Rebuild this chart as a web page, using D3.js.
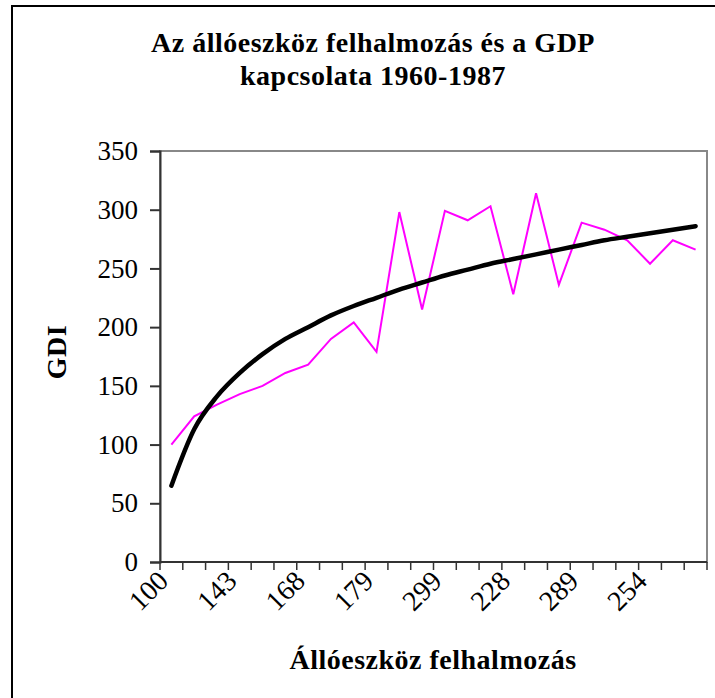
<!DOCTYPE html>
<html lang="hu">
<head>
<meta charset="UTF-8">
<title>Az állóeszköz felhalmozás és a GDP</title>
<script src="https://d3js.org/d3.v7.min.js"></script>
<style>
  body { margin: 0; background: #fff; }
  svg text { font-family: "Liberation Serif", "Times New Roman", serif; }
</style>
</head>
<body>
<svg width="715" height="698"></svg>
<script>
// x categories (felhalmozás) - also plotted as the magenta series
const categories = ["100", "124", "134", "143", "150", "161", "168", "190", "204", "179", "298", "215",
                    "299", "291", "303", "228", "314", "236", "289", "283", "274", "254", "274", "266"]
const felhalmozas = [100, 124, 134, 143, 150, 161, 168, 190, 204, 179, 298, 215,
                     299, 291, 303, 228, 314, 236, 289, 283, 274, 254, 274, 266]
// black trend line (GDI)
const gdi = [65, 113, 141, 161, 177, 190, 200, 210, 218, 225, 232, 238,
             244, 249, 254, 258, 262, 266, 270, 274, 277, 280, 283, 286]
const yTicks = [0, 50, 100, 150, 200, 250, 300, 350]

let svg = d3.select("svg")
let margin = { left: 160, right: 8, top: 151, bottom: 136 }
let width = 715 - margin.left - margin.right
let height = 698 - margin.top - margin.bottom

// outer frame
svg.append("rect")
    .attr("x", 12).attr("y", 6)
    .attr("width", 720).attr("height", 700)
    .attr("fill", "none").attr("stroke", "#000").attr("stroke-width", 2)

let x = d3.scaleBand().domain(d3.range(categories.length)).range([0, width])
let y = d3.scaleLinear().domain([0, 350]).range([height, 0])

let g = svg.append("g").attr("transform", `translate(${margin.left},${margin.top})`)

// plot area border (gray)
g.append("rect")
    .attr("width", width).attr("height", height)
    .attr("fill", "none").attr("stroke", "#888").attr("stroke-width", 2)

// y axis
let yAxis = g.append("g")
    .call(d3.axisLeft(y).tickValues(yTicks).tickSize(10).tickPadding(12))
yAxis.selectAll("text").style("font-size", "27px").attr("fill", "#000")
yAxis.selectAll("line, path").attr("stroke", "#333").attr("stroke-width", 2)

// x axis: ticks at band edges, labels every 3rd category
let xAxis = g.append("g").attr("transform", `translate(0,${height})`)
xAxis.append("line").attr("x1", 0).attr("x2", width).attr("stroke", "#333").attr("stroke-width", 2)
xAxis.selectAll(".tick")
    .data(d3.range(categories.length + 1))
    .enter().append("line")
    .attr("x1", d => d * x.step()).attr("x2", d => d * x.step())
    .attr("y1", 0).attr("y2", 8)
    .attr("stroke", "#333").attr("stroke-width", 1.5)
xAxis.selectAll(".lbl")
    .data(d3.range(0, categories.length, 3))
    .enter().append("text")
    .attr("transform", d => `translate(${x(d) + x.bandwidth() / 2 - 6},${16}) rotate(-45)`)
    .attr("text-anchor", "end")
    .attr("dominant-baseline", "middle")
    .style("font-size", "28px")
    .text(d => categories[d])

// lines
let line = d3.line()
    .x((d, i) => x(i) + x.bandwidth() / 2)
    .y(d => y(d))

g.append("path")
    .datum(felhalmozas)
    .attr("d", line)
    .attr("fill", "none").attr("stroke", "#ff00ff").attr("stroke-width", 2)

g.append("path")
    .datum(gdi)
    .attr("d", line.curve(d3.curveMonotoneX))
    .attr("fill", "none").attr("stroke", "#000").attr("stroke-width", 4.5)
    .attr("stroke-linejoin", "round").attr("stroke-linecap", "round")

// titles
let bold = sel => sel.attr("text-anchor", "middle")
    .style("font-size", "28px").style("font-weight", "bold").style("letter-spacing", "0.5px")
svg.append("text").attr("x", 373).attr("y", 52).call(bold)
    .text("Az állóeszköz felhalmozás és a GDP")
svg.append("text").attr("x", 373).attr("y", 85).call(bold)
    .text("kapcsolata 1960-1987")
svg.append("text").attr("x", 433).attr("y", 669).call(bold)
    .text("Állóeszköz felhalmozás")
svg.append("text").attr("transform", "translate(66,352) rotate(-90)").call(bold)
    .text("GDI")
</script>
</body>
</html>
